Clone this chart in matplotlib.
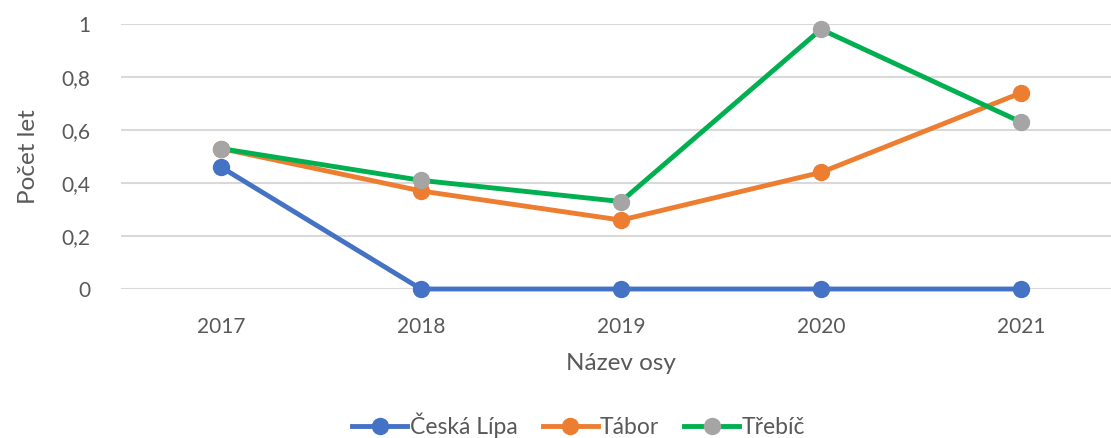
import matplotlib.pyplot as plt

years = ['2017', '2018', '2019', '2020', '2021']
ceska_lipa = [0.46, 0.0, 0.0, 0.0, 0.0]
tabor = [0.53, 0.37, 0.26, 0.44, 0.74]
trebic = [0.53, 0.41, 0.33, 0.98, 0.63]
y_ticks = [0, 0.2, 0.4, 0.6, 0.8, 1.0]
y_tick_labels = ['0', '0,2', '0,4', '0,6', '0,8', '1']

plt.rcParams['font.family'] = ['Lato', 'DejaVu Sans']
text_color = '#595959'

fig = plt.figure(figsize=(11.11, 4.38), dpi=100)
# plot area in pixels: x 121..1121, y 24..289 (from top)
ax = fig.add_axes([121 / 1111, (438 - 289) / 438, 1000 / 1111, 265 / 438])

x = range(len(years))
ax.plot(x, ceska_lipa, color='#4472c4', lw=3.5, marker='o', ms=11.5,
        label='Česká Lípa', zorder=3, clip_on=False)
ax.plot(x, tabor, color='#ed7d31', lw=3.5, marker='o', ms=11.5,
        label='Tábor', zorder=4, clip_on=False)
ax.plot(x, trebic, color='#00b050', lw=3.5, marker='o', ms=11.5,
        mfc='#a5a5a5', mec='#a5a5a5', label='Třebíč', zorder=5, clip_on=False)

ax.set_xlim(-0.5, 4.5)
ax.set_ylim(0, 1)
ax.set_xticks(list(x))
ax.set_xticklabels(years)
ax.set_yticks(y_ticks)
ax.set_yticklabels(y_tick_labels)
ax.tick_params(length=0, labelsize=15, colors=text_color)
ax.tick_params(axis='x', pad=20)
ax.tick_params(axis='y', pad=22)
ax.grid(axis='y', color='#d9d9d9', lw=1.5)
ax.set_axisbelow(True)
for s in ax.spines.values():
    s.set_visible(False)

ax.set_xlabel('Název osy', fontsize=17.5, color=text_color, labelpad=12)
ax.set_ylabel('Počet let', fontsize=17.5, color=text_color, labelpad=16)

# legend sits at the very bottom edge, as in the reference
fig.legend(loc='center', bbox_to_anchor=(0.521, 13 / 438), ncol=3,
           frameon=False, fontsize=16.5, labelcolor=text_color,
           handlelength=2.4, handletextpad=0.1, columnspacing=1.1)

fig.savefig('out.png', dpi=100)
